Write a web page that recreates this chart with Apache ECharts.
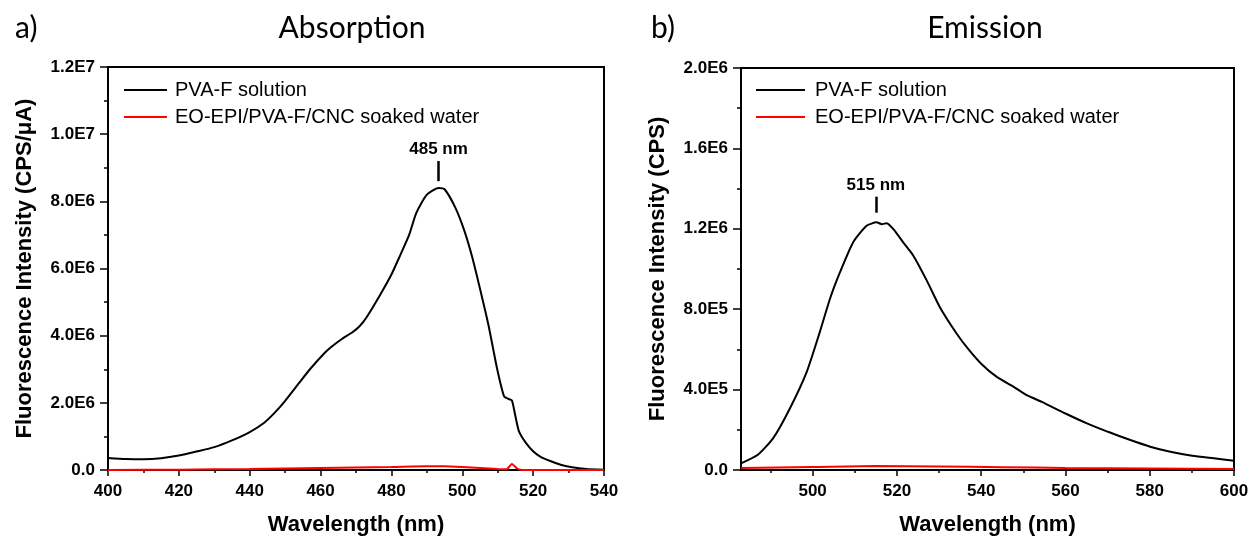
<!DOCTYPE html>
<html>
<head>
<meta charset="utf-8">
<script src="https://cdn.jsdelivr.net/npm/echarts@6/dist/echarts.min.js"></script>
<style>html,body{margin:0;padding:0;background:#fff}#c{width:1254px;height:541px}</style>
</head>
<body>
<div id="c"></div>
<script>
// ---------- Absorption (panel a) ----------
const absWavelength = [400,405,410,415,420,425,430,435,440,444,447,450,454,457,461,463,466,469,471,473,477,480,482.5,485,487,490,493.3,495,498,500.5,502.7,505,507.4,509.8,511.8,513,514,515,516,518,520,522,525,528,531,535,540];
const absPVAF =       [0.36e6,0.33e6,0.32e6,0.35e6,0.43e6,0.55e6,0.68e6,0.88e6,1.13e6,1.40e6,1.70e6,2.06e6,2.60e6,3.00e6,3.47e6,3.66e6,3.90e6,4.10e6,4.28e6,4.55e6,5.25e6,5.82e6,6.40e6,7.00e6,7.65e6,8.20e6,8.40e6,8.36e6,7.82e6,7.15e6,6.38e6,5.40e6,4.31e6,3.03e6,2.19e6,2.12e6,2.07e6,1.60e6,1.15e6,0.80e6,0.56e6,0.40e6,0.26e6,0.15e6,0.08e6,0.03e6,0.01e6];
const absSoakedWavelength = [400,420,440,460,480,490,495,500,505,510,512.5,514,515.5,517,540];
const absSoaked = [0.0,0.01e6,0.03e6,0.06e6,0.09e6,0.11e6,0.11e6,0.09e6,0.06e6,0.03e6,0.02e6,0.18e6,0.04e6,0.0,0.0];
const absXTickLabels = ['400','420','440','460','480','500','520','540'];
const absYTickLabels = ['0.0','2.0E6','4.0E6','6.0E6','8.0E6','1.0E7','1.2E7'];
const absPeakLabel = '485 nm';
const absPeakX = 493.3;
const absPeakLine = [8.6e6, 9.2e6];

// ---------- Emission (panel b) ----------
const emWavelength = [483,487,490.6,494.6,498.6,501.7,504.1,506.5,509.6,512.8,515.2,516.4,517.6,519.5,521.5,523.9,527.1,530.2,534.2,537,540,543.7,548.1,550.8,554.4,560,565.1,570.1,575.4,580.1,584.9,590.1,595.2,600];
const emPVAF = [0.33e5,0.76e5,1.57e5,3.06e5,4.88e5,6.86e5,8.51e5,9.84e5,11.32e5,12.15e5,12.32e5,12.23e5,12.28e5,11.9e5,11.32e5,10.66e5,9.42e5,8.10e5,6.78e5,6.0e5,5.29e5,4.63e5,4.09e5,3.72e5,3.39e5,2.81e5,2.32e5,1.90e5,1.49e5,1.16e5,0.91e5,0.71e5,0.58e5,0.46e5];
const emSoakedWavelength = [483,500,515,530,545,560,580,600];
const emSoaked = [0.10e5,0.15e5,0.20e5,0.18e5,0.14e5,0.10e5,0.07e5,0.05e5];
const emXTickValues = [500,520,540,560,580,600];
const emXTickLabels = ['500','520','540','560','580','600'];
const emXMinorTicks = [490,510,530,550,570,590];
const emYTickLabels = ['0.0','4.0E5','8.0E5','1.2E6','1.6E6','2.0E6'];
const emPeakLabel = '515 nm';
const emPeakX = 515.0;
const emPeakLine = [1.28e6, 1.36e6];

const seriesNames = ['PVA-F solution','EO-EPI/PVA-F/CNC soaked water'];
const panelTitles = ['Absorption','Emission'];
const panelTags = ['a)','b)'];
const yNames = ['Fluorescence Intensity (CPS/\u03bcA)','Fluorescence Intensity (CPS)'];
const xName = 'Wavelength (nm)';

const zip = (xs, ys) => xs.map((x, i) => [x, ys[i]]);
const F = 'Liberation Sans, Arial, sans-serif';
const TF = 'Lato, Open Sans, sans-serif';
const tickFont = {fontFamily: F, fontWeight: 'bold', fontSize: 17, color: '#000'};
const nameFont = {fontFamily: F, fontWeight: 'bold', fontSize: 22, color: '#000'};

const chart = echarts.init(document.getElementById('c'), null, {renderer: 'canvas'});

function yAxis(gridIndex, max, interval, labels) {
  return {
    type: 'value', gridIndex, min: 0, max, interval,
    name: yNames[gridIndex], nameLocation: 'middle', nameGap: 72, nameTextStyle: nameFont,
    axisLine: {show: true, lineStyle: {color: '#000', width: 2}},
    axisTick: {show: true, length: 8, lineStyle: {color: '#000', width: 1.5}},
    minorTick: {show: true, splitNumber: 2, length: 4, lineStyle: {color: '#000', width: 1.5}},
    splitLine: {show: false}, minorSplitLine: {show: false},
    axisLabel: Object.assign({margin: 13, formatter: v => labels[Math.round(v / interval)]}, tickFont)
  };
}

const markLineStyle = (x, ys, text) => ({
  silent: true, symbol: ['none', 'none'], animation: false,
  lineStyle: {color: '#000', width: 2.5, type: 'solid'},
  label: {show: true, position: 'end', formatter: text, fontFamily: F, fontWeight: 'bold', fontSize: 17, color: '#000', distance: 3},
  data: [[{coord: [x, ys[0]]}, {coord: [x, ys[1]]}]]
});

const option = {
  backgroundColor: '#fff',
  animation: false,
  graphic: [
    {type: 'text', x: 352, y: 28, style: {text: panelTitles[0], fontFamily: TF, fontSize: 30, fill: '#000', align: 'center', verticalAlign: 'middle'}},
    {type: 'text', x: 985, y: 28, style: {text: panelTitles[1], fontFamily: TF, fontSize: 30, fill: '#000', align: 'center', verticalAlign: 'middle'}},
    {type: 'text', x: 15, y: 28, style: {text: panelTags[0], fontFamily: TF, fontSize: 30, fill: '#000', align: 'left', verticalAlign: 'middle'}},
    {type: 'text', x: 651, y: 28, style: {text: panelTags[1], fontFamily: TF, fontSize: 30, fill: '#000', align: 'left', verticalAlign: 'middle'}}
  ],
  grid: [
    {left: 108, right: 650, top: 67, bottom: 69, show: true, borderColor: '#000', borderWidth: 2, backgroundColor: 'transparent'},
    {left: 741, right: 20, top: 68, bottom: 69, show: true, borderColor: '#000', borderWidth: 2, backgroundColor: 'transparent'}
  ],
  legend: [
    {orient: 'vertical', left: 124, top: 80, padding: 0, icon: 'rect', itemWidth: 43, itemHeight: 2, itemGap: 7,
     data: seriesNames, selectedMode: false,
     textStyle: {fontFamily: F, fontSize: 20, color: '#000', lineHeight: 20, padding: [0, 0, 0, 3]}},
    {orient: 'vertical', left: 756, top: 80, padding: 0, icon: 'rect', itemWidth: 49, itemHeight: 2, itemGap: 7,
     data: seriesNames, selectedMode: false,
     textStyle: {fontFamily: F, fontSize: 20, color: '#000', lineHeight: 20, padding: [0, 0, 0, 5]}}
  ],
  xAxis: [
    {type: 'value', gridIndex: 0, min: 400, max: 540, interval: 20,
     name: xName, nameLocation: 'middle', nameGap: 44, nameTextStyle: nameFont,
     axisLine: {show: true, onZero: false, lineStyle: {color: '#000', width: 2}},
     axisTick: {show: true, length: 6, lineStyle: {color: '#000', width: 1.5}},
     minorTick: {show: true, splitNumber: 2, length: 3, lineStyle: {color: '#000', width: 1.5}},
     splitLine: {show: false}, minorSplitLine: {show: false},
     axisLabel: Object.assign({margin: 13, formatter: v => absXTickLabels[Math.round((v - 400) / 20)]}, tickFont)},
    {type: 'value', gridIndex: 1, min: 483, max: 600, position: 'bottom',
     name: xName, nameLocation: 'middle', nameGap: 44, nameTextStyle: nameFont,
     axisLine: {show: true, onZero: false, lineStyle: {color: '#000', width: 2}},
     axisTick: {show: true, length: 6, customValues: emXTickValues, lineStyle: {color: '#000', width: 1.5}},
     splitLine: {show: false},
     axisLabel: Object.assign({margin: 13, customValues: emXTickValues, formatter: v => emXTickLabels[emXTickValues.indexOf(Math.round(v))]}, tickFont)},
    {type: 'value', gridIndex: 1, min: 483, max: 600, position: 'bottom',
     axisLine: {show: false, onZero: false},
     axisTick: {show: true, length: 3, customValues: emXMinorTicks, lineStyle: {color: '#000', width: 1.5}},
     splitLine: {show: false},
     axisLabel: {show: false}}
  ],
  yAxis: [
    yAxis(0, 1.2e7, 2e6, absYTickLabels),
    yAxis(1, 2.0e6, 4e5, emYTickLabels)
  ],
  series: [
    {name: seriesNames[0], type: 'line', xAxisIndex: 0, yAxisIndex: 0, data: zip(absWavelength, absPVAF),
     symbol: 'none', smooth: 0.2, lineStyle: {color: '#000', width: 2}, itemStyle: {color: '#000'},
     markLine: markLineStyle(absPeakX, absPeakLine, absPeakLabel)},
    {name: seriesNames[1], type: 'line', xAxisIndex: 0, yAxisIndex: 0, data: zip(absSoakedWavelength, absSoaked),
     symbol: 'none', smooth: 0.2, lineStyle: {color: '#ff0000', width: 2}, itemStyle: {color: '#ff0000'}},
    {name: seriesNames[0], type: 'line', xAxisIndex: 1, yAxisIndex: 1, data: zip(emWavelength, emPVAF),
     symbol: 'none', smooth: 0.2, lineStyle: {color: '#000', width: 2}, itemStyle: {color: '#000'},
     markLine: markLineStyle(emPeakX, emPeakLine, emPeakLabel)},
    {name: seriesNames[1], type: 'line', xAxisIndex: 1, yAxisIndex: 1, data: zip(emSoakedWavelength, emSoaked),
     symbol: 'none', smooth: 0.2, lineStyle: {color: '#ff0000', width: 2}, itemStyle: {color: '#ff0000'}}
  ]
};
chart.setOption(option);
</script>
</body>
</html>
